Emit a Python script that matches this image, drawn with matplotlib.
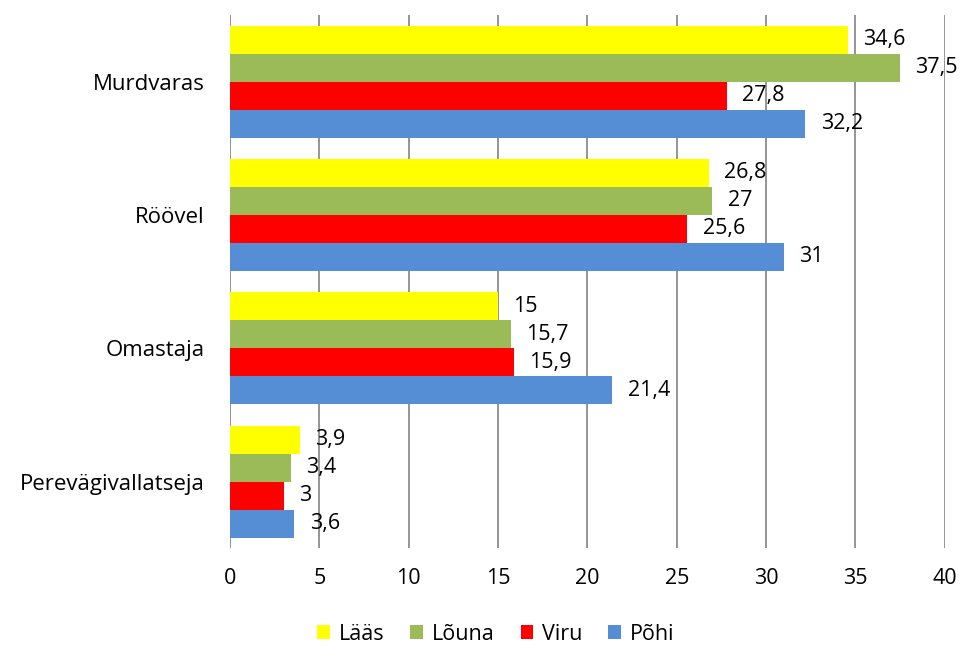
import numpy as np
import matplotlib
matplotlib.use("Agg")
from matplotlib import pyplot as plt

plt.rcParams['font.family'] = ['Open Sans', 'DejaVu Sans']

categories = ['Murdvaras', 'Röövel', 'Omastaja', 'Perevägivallatseja']
series = ['Lääs', 'Lõuna', 'Viru', 'Põhi']
values = {
    'Lääs': [34.6, 26.8, 15, 3.9],
    'Lõuna': [37.5, 27, 15.7, 3.4],
    'Viru': [27.8, 25.6, 15.9, 3],
    'Põhi': [32.2, 31, 21.4, 3.6],
}
colors = ['#FFFF00', '#9BBB59', '#FF0000', '#558ED5']
xticks = [0, 5, 10, 15, 20, 25, 30, 35, 40]

fig = plt.figure(figsize=(9.65, 6.48), dpi=100)
ax = fig.add_axes([0.2383, 0.154, 0.7407, 0.823])

y = np.arange(len(categories))
h = 0.21
for i, name in enumerate(series):
    pos = y + (i - 1.5) * h
    ax.barh(pos, values[name], height=h, color=colors[i], label=name, zorder=3)
    for p, v in zip(pos, values[name]):
        txt = str(v).replace('.', ',')
        ax.annotate(txt, (v, p), xytext=(11, 0), textcoords='offset points',
                    va='center', ha='left', fontsize=15.5, zorder=4)

ax.set_xlim(0, 40)
ax.set_ylim(len(categories) - 0.5, -0.5)
ax.set_xticks(xticks)
ax.set_yticks(y)
ax.set_yticklabels(categories, fontsize=16)
ax.tick_params(axis='x', length=0, pad=14, labelsize=15.5)
ax.tick_params(axis='y', length=0, pad=18)
ax.grid(axis='x', color='#8c8c8c', linewidth=1.3, zorder=0)
for s in ax.spines.values():
    s.set_visible(False)

ax.legend(loc='upper center', bbox_to_anchor=(0.372, -0.105), ncol=4, frameon=False,
          fontsize=15.5, handlelength=0.6, handleheight=0.6, handletextpad=0.4,
          columnspacing=1.2)

fig.savefig('out.png', dpi=100)
